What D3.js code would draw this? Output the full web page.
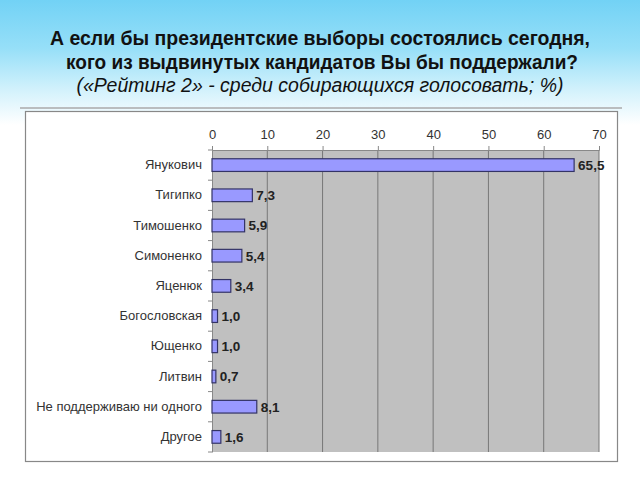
<!DOCTYPE html>
<html><head><meta charset="utf-8">
<script src="https://cdn.jsdelivr.net/npm/d3@7"></script>
<style>body{margin:0;padding:0;overflow:hidden;} svg{display:block;}</style>
</head><body>
<script>
const categories = ["Янукович","Тигипко","Тимошенко","Симоненко","Яценюк","Богословская","Ющенко","Литвин","Не поддерживаю ни одного","Другое"];
const values = [65.5,7.3,5.9,5.4,3.4,1.0,1.0,0.7,8.1,1.6];
const valueLabels = ["65,5","7,3","5,9","5,4","3,4","1,0","1,0","0,7","8,1","1,6"];
const xTicks = [0,10,20,30,40,50,60,70];
const titleLines = ["А если бы президентские выборы состоялись сегодня,","кого из выдвинутых кандидатов Вы бы поддержали?","(«Рейтинг 2» - среди собирающихся голосовать; %)"];

const W=640,H=480;
const FONT="Arial, 'Liberation Sans', sans-serif";
const svg=d3.select("body").append("svg").attr("width",W).attr("height",H);
const defs=svg.append("defs");
const g1=defs.append("linearGradient").attr("id","bg").attr("x1",0).attr("y1",0).attr("x2",0).attr("y2",1);
g1.append("stop").attr("offset","0%").attr("stop-color","#72d2f5");
g1.append("stop").attr("offset","10%").attr("stop-color","#96dff8");
g1.append("stop").attr("offset","19%").attr("stop-color","#d4f2fc");
g1.append("stop").attr("offset","26%").attr("stop-color","#ffffff");
g1.append("stop").attr("offset","100%").attr("stop-color","#ffffff");
svg.append("rect").attr("width",W).attr("height",H).attr("fill","url(#bg)");

const title=svg.append("g").attr("font-family",FONT).attr("fill","#111").attr("text-anchor","middle");
title.append("text").attr("x",320).attr("y",45).attr("font-size",19.5).attr("font-weight","bold").attr("textLength",540).attr("lengthAdjust","spacingAndGlyphs").text(titleLines[0]);
title.append("text").attr("x",322).attr("y",69).attr("font-size",19.5).attr("font-weight","bold").attr("textLength",512).attr("lengthAdjust","spacingAndGlyphs").text(titleLines[1]);
title.append("text").attr("x",320).attr("y",92).attr("font-size",19.3).attr("font-style","italic").attr("textLength",487).attr("lengthAdjust","spacingAndGlyphs").text(titleLines[2]);

svg.append("line").attr("x1",20).attr("x2",622).attr("y1",108).attr("y2",108).attr("stroke","#aaa").attr("stroke-width",1.5);

svg.append("rect").attr("x",25.5).attr("y",111.5).attr("width",592).attr("height",350).attr("fill","#fff").attr("stroke","#888").attr("stroke-width",1.2);

const x=d3.scaleLinear().domain([0,70]).range([212,599]);
const y=d3.scaleBand().domain(categories).range([150,452]).paddingInner(0.58).paddingOuter(0.29);

svg.append("rect").attr("x",x(0)).attr("y",150).attr("width",x(70)-x(0)).attr("height",302).attr("fill","#c0c0c0");

// grid
svg.append("g").selectAll("line").data(xTicks.slice(1)).join("line")
 .attr("x1",d=>x(d)).attr("x2",d=>x(d)).attr("y1",150).attr("y2",452)
 .attr("stroke","#777").attr("stroke-width",1);

// top axis
const xa=svg.append("g").attr("transform","translate(0,150)")
 .call(d3.axisTop(x).tickValues(xTicks).tickSize(4).tickPadding(7).tickFormat(d3.format("d")));
xa.select(".domain").attr("stroke","#888");
xa.selectAll(".tick line").attr("stroke","#888");
xa.selectAll("text").attr("font-family",FONT).attr("font-size",13).attr("fill","#333");

// left axis
const ya=svg.append("g").attr("transform",`translate(${x(0)},0)`)
 .call(d3.axisLeft(y).tickSize(0).tickPadding(10));
ya.select(".domain").attr("stroke","#888");
ya.selectAll("text").attr("font-family",FONT).attr("font-size",13).attr("fill","#333");
// category boundary ticks
const step=y.step();
svg.append("g").selectAll("line").data(d3.range(categories.length+1)).join("line")
 .attr("x1",x(0)-4).attr("x2",x(0)).attr("y1",i=>150+i*step).attr("y2",i=>150+i*step)
 .attr("stroke","#888");

// bars
svg.append("g").selectAll("rect").data(values).join("rect")
 .attr("x",x(0)).attr("y",(d,i)=>y(categories[i]))
 .attr("width",d=>x(d)-x(0)).attr("height",y.bandwidth())
 .attr("fill","#9999ff").attr("stroke","#333366").attr("stroke-width",1.2);

svg.append("g").selectAll("text").data(values).join("text")
 .attr("x",d=>x(d)+4).attr("y",(d,i)=>y(categories[i])+y.bandwidth()/2)
 .attr("dy","0.36em").attr("font-family",FONT)
 .attr("font-size",13.5).attr("font-weight","bold").attr("fill","#222")
 .text((d,i)=>valueLabels[i]);
</script>
</body></html>
